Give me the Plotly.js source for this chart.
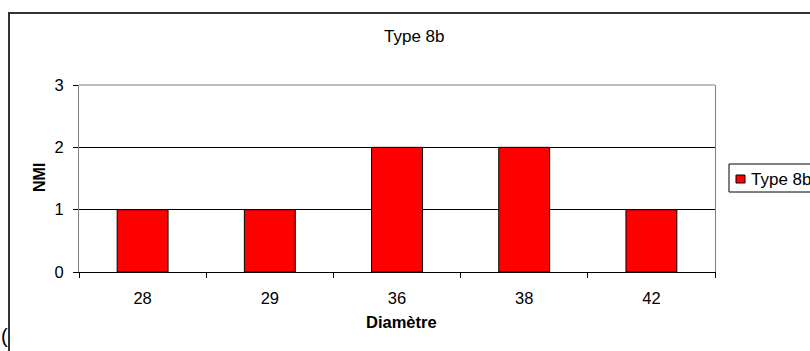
<!DOCTYPE html>
<html>
<head>
<meta charset="utf-8">
<script src="https://cdn.plot.ly/plotly-3.0.1.min.js"></script>
<style>
html,body{margin:0;padding:0;background:#fff;}
#chart{width:810px;height:351px;}
</style>
</head>
<body>
<div id="chart"></div>
<script>
var categories = ["28", "29", "36", "38", "42"];
var nmiValues = [1, 1, 2, 2, 1];
var seriesName = "Type 8b";
var chartTitle = "Type 8b";
var xTitle = "Diamètre";
var yTitle = "NMI";
var yTicks = [0, 1, 2, 3];

var FONT = "Liberation Sans, Arial, sans-serif";

// pixel -> paper helpers (plot area x 79..715, y 85..272)
function px(x){ return (x - 79) / 636; }
function py(y){ return (272 - y) / 187; }

var trace = {
  type: "bar",
  x: categories,
  y: nmiValues,
  name: seriesName,
  width: 0.4,
  marker: {color: "#ff0000", line: {color: "#000000", width: 1}},
  showlegend: false,
  hoverinfo: "x+y"
};

var layout = {
  width: 810, height: 351,
  margin: {l: 79, r: 95, t: 85, b: 79, pad: 0},
  paper_bgcolor: "#ffffff",
  plot_bgcolor: "#ffffff",
  font: {family: FONT, size: 16, color: "#000000"},
  showlegend: false,
  xaxis: {
    type: "category",
    tickson: "boundaries",
    ticks: "outside", ticklen: 5, tickcolor: "#000000", tickwidth: 1,
    ticklabelstandoff: 11,
    showline: true, linecolor: "#000000", linewidth: 1,
    showgrid: false, zeroline: false,
    tickfont: {family: FONT, size: 16.5, color: "#000000"},
    fixedrange: true
  },
  yaxis: {
    range: [0, 3],
    tickvals: yTicks,
    ticktext: yTicks.map(String),
    ticks: "outside", ticklen: 5, tickcolor: "#000000", tickwidth: 1,
    ticklabelstandoff: 6,
    showline: true, mirror: true, linecolor: "#808080", linewidth: 1,
    showgrid: true, gridcolor: "#000000", gridwidth: 1,
    zeroline: true, zerolinecolor: "#000000", zerolinewidth: 1,
    tickfont: {family: FONT, size: 16.5, color: "#000000"},
    fixedrange: true
  },
  shapes: [
    {type: "line", xref: "paper", yref: "paper", x0: 0, x1: 1, y0: 1, y1: 1,
     line: {color: "#808080", width: 1}, layer: "above"},
    {type: "rect", xref: "paper", yref: "paper", x0: px(9), x1: px(840), y0: py(380), y1: py(13),
     line: {color: "#333333", width: 2}, fillcolor: "rgba(0,0,0,0)", layer: "above"},
    {type: "rect", xref: "paper", yref: "paper", x0: px(729), x1: px(840), y0: py(192), y1: py(164),
     line: {color: "#000000", width: 1}, fillcolor: "#ffffff", layer: "above"},
    {type: "rect", xref: "paper", yref: "paper", x0: px(736), x1: px(745), y0: py(183), y1: py(175),
     line: {color: "#000000", width: 1}, fillcolor: "#ff0000", layer: "above"}
  ],
  annotations: [
    {text: chartTitle, xref: "paper", yref: "paper", x: px(414.5), y: py(36),
     xanchor: "center", yanchor: "middle", showarrow: false,
     font: {family: FONT, size: 17, color: "#000000"}},
    {text: "<b>" + xTitle + "</b>", xref: "paper", yref: "paper", x: px(401), y: py(322),
     xanchor: "center", yanchor: "middle", showarrow: false,
     font: {family: FONT, size: 16.5, color: "#000000"}},
    {text: "<b>" + yTitle + "</b>", xref: "paper", yref: "paper", x: px(39), y: py(178),
     xanchor: "center", yanchor: "middle", showarrow: false, textangle: -90,
     font: {family: FONT, size: 16, color: "#000000"}},
    {text: seriesName, xref: "paper", yref: "paper", x: px(749), y: py(179),
     xanchor: "left", yanchor: "middle", showarrow: false,
     font: {family: FONT, size: 17, color: "#000000"}},
    {text: "(", xref: "paper", yref: "paper", x: px(10), y: py(336),
     xanchor: "right", yanchor: "middle", showarrow: false,
     font: {family: FONT, size: 20, color: "#000000"}}
  ]
};

Plotly.newPlot("chart", [trace], layout, {displayModeBar: false, staticPlot: true});
</script>
</body>
</html>
